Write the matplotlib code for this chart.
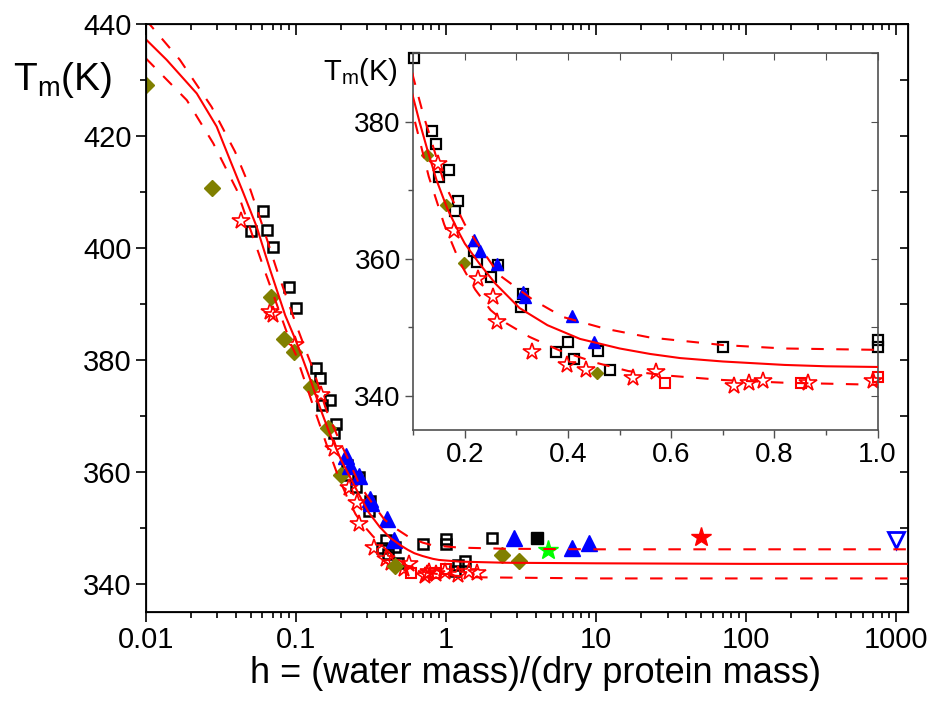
import numpy as np
import matplotlib.pyplot as plt
from matplotlib.ticker import MultipleLocator, LogLocator, FuncFormatter, NullFormatter

plt.rcParams['font.family'] = ['Liberation Sans', 'DejaVu Sans']
plt.rcParams['mathtext.fontset'] = 'custom'
plt.rcParams['mathtext.rm'] = 'Liberation Sans'
plt.rcParams['mathtext.it'] = 'Liberation Sans:italic'

# fitted curve (solid) and its confidence band (dashed)
fit_h = [0.01, 0.0138, 0.0219, 0.0297, 0.0365, 0.0448, 0.0549, 0.0675, 0.085, 0.1,
         0.112, 0.127, 0.145, 0.166, 0.19, 0.2, 0.228, 0.26, 0.306, 0.36, 0.423, 0.5,
         0.559, 0.617, 0.7, 0.819, 0.9, 1.0, 1.245, 2.5, 10, 100, 1200]
fit_T = [437.3, 433.6, 427.6, 421.7, 415.7, 409.8, 403.8, 396.1, 388.0, 383.5,
         380.0, 376.0, 371.5, 367.3, 363.6, 362.2, 359.3, 356.3, 352.8, 350.3, 348.3, 346.9,
         346.1, 345.5, 345.0, 344.5, 344.3, 344.2, 344.0, 343.8, 343.7, 343.6, 343.6]

up_h = [0.01, 0.0169, 0.0275, 0.0394, 0.0483, 0.06, 0.075, 0.1, 0.121, 0.13, 0.16, 0.2,
        0.221, 0.267, 0.332, 0.39, 0.471, 0.559, 0.7, 0.819, 1.0, 1.245, 2.5, 10, 100, 1200]
up_T = [440.8, 433.6, 425.2, 417.2, 411.5, 404.0, 396.0, 386.5, 380.6, 378.5, 371.0, 365.0,
        362.6, 357.6, 354.0, 351.5, 349.8, 348.5, 347.4, 346.9, 346.7, 346.5, 346.3, 346.2, 346.2, 346.2]

lo_h = [0.01, 0.0188, 0.0282, 0.0404, 0.062, 0.094, 0.1, 0.13, 0.16, 0.19, 0.22, 0.25,
        0.28, 0.325, 0.384, 0.455, 0.517, 0.6, 0.7, 0.819, 1.0, 1.62, 10, 100, 1200]
lo_T = [433.9, 426.4, 418.7, 410.4, 396.0, 382.5, 381.0, 372.0, 365.0, 359.5, 355.5, 352.5,
        350.6, 348.6, 346.6, 344.8, 343.6, 342.9, 342.3, 341.9, 341.6, 341.2, 341.0, 341.0, 341.0]

# measured data sets
sq_h = [0.0504, 0.0603, 0.0644, 0.0703, 0.0907, 0.1005, 0.136, 0.145, 0.149, 0.170, 0.181,
        0.186, 0.218, 0.223, 0.251, 0.264, 0.309, 0.312, 0.377, 0.400, 0.412, 0.458, 0.481,
        0.700, 1.0, 1.0, 1.15, 1.21, 1.35, 2.03]
sq_T = [403.1, 406.7, 403.3, 400.1, 393.1, 389.3, 378.6, 376.8, 372.0, 372.9, 366.9,
        368.5, 361.2, 359.5, 357.4, 359.1, 353.0, 354.9, 346.4, 347.9, 345.3, 346.6, 343.8,
        347.1, 348.1, 347.1, 342.4, 343.4, 344.2, 348.2]

star_h = [0.0432, 0.0674, 0.0700, 0.099, 0.147, 0.179, 0.225, 0.254, 0.262, 0.330, 0.397,
          0.434, 0.525, 0.571, 0.721, 0.750, 0.778, 0.864, 0.991, 1.2, 1.42, 1.62]
star_T = [404.8, 388.6, 388.0, 382.7, 373.8, 364.1, 357.1, 354.4, 350.7, 346.4, 344.5,
          343.8, 342.6, 343.5, 341.4, 341.8, 342.1, 341.8, 342.1, 341.6, 342.2, 342.0]

rsq_h = [0.588, 0.851, 1.0]
rsq_T = [341.9, 341.9, 342.7]

dia_h = [0.01, 0.0278, 0.0685, 0.0836, 0.098, 0.127, 0.163, 0.199, 0.456, 2.36, 3.05]
dia_T = [429.1, 410.8, 391.3, 383.7, 381.5, 375.2, 367.9, 359.4, 343.3, 345.2, 344.1]

tri_h = [0.217, 0.230, 0.262, 0.312, 0.317, 0.408, 0.450, 2.85, 6.98, 8.93]
tri_T = [362.8, 361.1, 359.3, 355.2, 354.4, 351.6, 347.9, 348.2, 346.4, 347.4]

bsq_h, bsq_T = [4.04], [348.2]
gstar_h, gstar_T = [4.83], [346.1]
rstar_h, rstar_T = [50.3], [348.4]
dtri_h, dtri_T = [1004], [347.9]

red = '#ff0000'
olive = '#808000'
blue = '#0000ff'
dash = (0, (6, 6))

fig = plt.figure(figsize=(9.35, 7.17), dpi=100)

# ---- main panel ----
ax = fig.add_axes([0.1558, 0.1464, 0.8153, 0.8201])
ax.set_xscale('log')
ax.set_xlim(0.01, 1200)
ax.set_ylim(335, 440)

ax.plot(sq_h, sq_T, 's', ms=6.5, mfc='none', mec='black', mew=1.8, zorder=2)
ax.plot(star_h, star_T, '*', ms=13, mfc='none', mec=red, mew=1.2, zorder=2)
ax.plot(rsq_h, rsq_T, 's', ms=7, mfc='none', mec=red, mew=1.5, zorder=2)
ax.plot(dia_h, dia_T, 'D', ms=8, color=olive, zorder=2)
ax.plot(tri_h, tri_T, '^', ms=12, color=blue, zorder=2)
ax.plot(bsq_h, bsq_T, 's', ms=8, color='black', zorder=2)
ax.plot(gstar_h, gstar_T, '*', ms=15, color='#00ff00', zorder=2)
ax.plot(rstar_h, rstar_T, '*', ms=15, color=red, zorder=2)
ax.plot(dtri_h, dtri_T, 'v', ms=12, mfc='none', mec=blue, mew=2, zorder=2)

ax.plot(fit_h, fit_T, '-', color=red, lw=1.5, zorder=3)
ax.plot(up_h, up_T, color=red, lw=1.5, ls=dash, zorder=3)
ax.plot(lo_h, lo_T, color=red, lw=1.5, ls=dash, zorder=3)

ax.set_yticks([340, 360, 380, 400, 420, 440])
ax.yaxis.set_minor_locator(MultipleLocator(10))
ax.xaxis.set_major_locator(LogLocator(base=10, numticks=12))
ax.xaxis.set_minor_locator(LogLocator(base=10, subs=np.arange(2, 10), numticks=12))
ax.xaxis.set_major_formatter(FuncFormatter(lambda v, p: '%g' % v))
ax.xaxis.set_minor_formatter(NullFormatter())
ax.tick_params(which='both', direction='out', width=1.2, labelsize=21)
ax.tick_params(which='major', length=7, pad=3)
ax.tick_params(which='minor', length=4)
for s in ax.spines.values():
    s.set_linewidth(1.3)

axt = ax.twiny()
axt.set_xscale('log')
axt.set_xlim(ax.get_xlim())
axt.xaxis.set_major_locator(LogLocator(base=10, numticks=12))
axt.xaxis.set_minor_locator(LogLocator(base=10, subs=np.arange(2, 10), numticks=12))
axt.tick_params(axis='x', which='both', direction='in', labeltop=False, width=1.2)
axt.tick_params(axis='x', which='major', length=8)
axt.tick_params(axis='x', which='minor', length=4)

axr = ax.twinx()
axr.set_ylim(ax.get_ylim())
axr.set_yticks([340, 360, 380, 400, 420, 440])
axr.yaxis.set_minor_locator(MultipleLocator(10))
axr.tick_params(axis='y', which='both', direction='in', labelright=False, width=1.2, length=6)

ax.set_xlabel('')
fig.text(535 / 935, 1 - 683 / 717, 'h = (water mass)/(dry protein mass)',
         fontsize=26, ha='center', va='baseline')
fig.text(13 / 935, 1 - 90 / 717, r'T$_\mathrm{m}$(K)', fontsize=28, va='baseline')

# ---- inset ----
axi = fig.add_axes([0.442, 0.4003, 0.4967, 0.5254], zorder=5)
axi.set_xlim(0.1, 1.0)
axi.set_ylim(335, 390)


def in_range(h, T):
    h = np.asarray(h)
    T = np.asarray(T)
    m = (h >= 0.1) & (h <= 1.0)
    return h[m], T[m]


axi.plot(*in_range(sq_h, sq_T), 's', ms=7, mfc='none', mec='black', mew=1.6, zorder=2, clip_on=False)
axi.plot(*in_range(star_h, star_T), '*', ms=13, mfc='none', mec=red, mew=1.2, zorder=2, clip_on=False)
axi.plot(*in_range(rsq_h, rsq_T), 's', ms=7, mfc='none', mec=red, mew=1.5, zorder=2, clip_on=False)
axi.plot(*in_range(dia_h, dia_T), 'D', ms=6.5, color=olive, zorder=2, clip_on=False)
axi.plot(*in_range(tri_h, tri_T), '^', ms=9, color=blue, zorder=2, clip_on=False)

axi.plot(fit_h, fit_T, '-', color=red, lw=1.5, zorder=3)
axi.plot(up_h, up_T, color=red, lw=1.5, ls=dash, zorder=3)
axi.plot(lo_h, lo_T, color=red, lw=1.5, ls=dash, zorder=3)

axi.set_xticks([0.2, 0.4, 0.6, 0.8, 1.0])
axi.xaxis.set_minor_locator(MultipleLocator(0.1))
axi.xaxis.set_major_formatter(FuncFormatter(lambda v, p: '%.1f' % v))
axi.set_yticks([340, 360, 380])
axi.yaxis.set_minor_locator(MultipleLocator(10))
gray = '#505050'
axi.tick_params(which='both', direction='out', width=1.0, color=gray, labelsize=20)
axi.tick_params(which='major', length=6, pad=3)
axi.tick_params(which='minor', length=3.5)
for s in axi.spines.values():
    s.set_color(gray)
    s.set_linewidth(1.2)

axit = axi.twiny()
axit.set_xlim(axi.get_xlim())
axit.xaxis.set_major_locator(MultipleLocator(0.1))
axit.tick_params(axis='x', which='both', direction='in', labeltop=False, color=gray, length=5)
axir = axi.twinx()
axir.set_ylim(axi.get_ylim())
axir.yaxis.set_major_locator(MultipleLocator(10))
axir.tick_params(axis='y', which='both', direction='in', labelright=False, color=gray, length=5)
for a in (axit, axir):
    for s in a.spines.values():
        s.set_visible(False)

fig.text(323 / 935, 1 - 80 / 717, r'T$_\mathrm{m}$(K)', fontsize=21, va='baseline')
fig.text(647 / 935, 1 - 417 / 717, 'h', fontsize=20, va='baseline')

plt.savefig('out.png', dpi=100)
